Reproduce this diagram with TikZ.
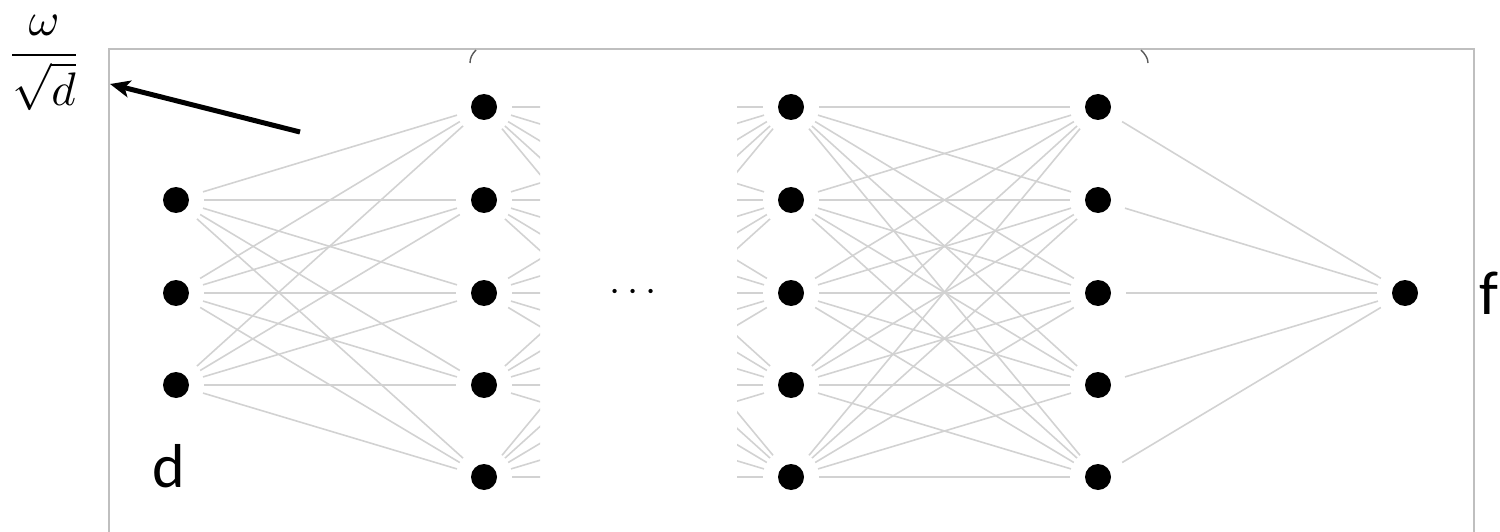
\documentclass[tikz,border=0pt]{standalone}
\usepackage{fontspec}
\newfontfamily\calfont{Carlito}
\usetikzlibrary{arrows.meta}
\begin{document}
\begin{tikzpicture}[x=1pt,y=-1pt,
  neuron/.style={circle,fill=black,inner sep=0pt,minimum size=26pt},
  edge/.style={draw=gray!35,line width=1.6pt,shorten <=15pt,shorten >=15pt},
  framebox/.style={draw=gray!50,line width=1.5pt},
  bracearc/.style={draw=black!65,line width=1.4pt},
  pointer/.style={draw=black,line width=5pt,-{Stealth[length=20pt,width=17pt,inset=5pt]}},
  lbl/.style={font=\calfont\fontsize{62}{70}\selectfont,inner sep=0pt,anchor=base}]
\useasboundingbox (0,0) rectangle (1500,532);
% frame
\draw[framebox] (109,540) -- (109,49) -- (1474,49) -- (1474,540);
% brace fragments
\draw[bracearc] (476,50) .. controls (472,54) and (470,58) .. (470,63);
\draw[bracearc] (1141,50) .. controls (1145,54) and (1148,58) .. (1148,63);
% nodes
\foreach \k/\y in {1/200,2/293,3/385} \node[neuron] (i\k) at (176,\y) {};
\foreach \k/\y in {1/107,2/200,3/293,4/385,5/477} {
  \node[neuron] (a\k) at (484,\y) {};
  \node[neuron] (b\k) at (791,\y) {};
  \node[neuron] (c\k) at (1098,\y) {};
}
\node[neuron] (o) at (1405,293) {};
% edges
\foreach \i in {1,2,3} \foreach \j in {1,...,5} \draw[edge] (i\i) -- (a\j);
\begin{scope}
  \clip (500,60) rectangle (540,500) (737,60) rectangle (780,500);
  \foreach \i in {1,...,5} \foreach \j in {1,...,5} \draw[edge] (a\i) -- (b\j);
\end{scope}
\foreach \i in {1,...,5} \foreach \j in {1,...,5} \draw[edge] (b\i) -- (c\j);
\foreach \i in {1,...,5} \draw[edge] (c\i) -- (o);
% labels
\node[scale=4,inner sep=0pt] (dots) at (633,293) {$\cdots$};
\node[lbl] (dl) at (169,487) {d};
\node[lbl] (fl) at (1489,314) {f};
\node[scale=4.7,inner sep=0pt] (frac) at (44,63) {$\displaystyle\frac{\omega}{\sqrt{d}}$};
% arrow
\coordinate (arrS) at (300,132);
\coordinate (arrE) at (110,84);
\draw[pointer] (arrS) -- (arrE);
\end{tikzpicture}
\end{document}
